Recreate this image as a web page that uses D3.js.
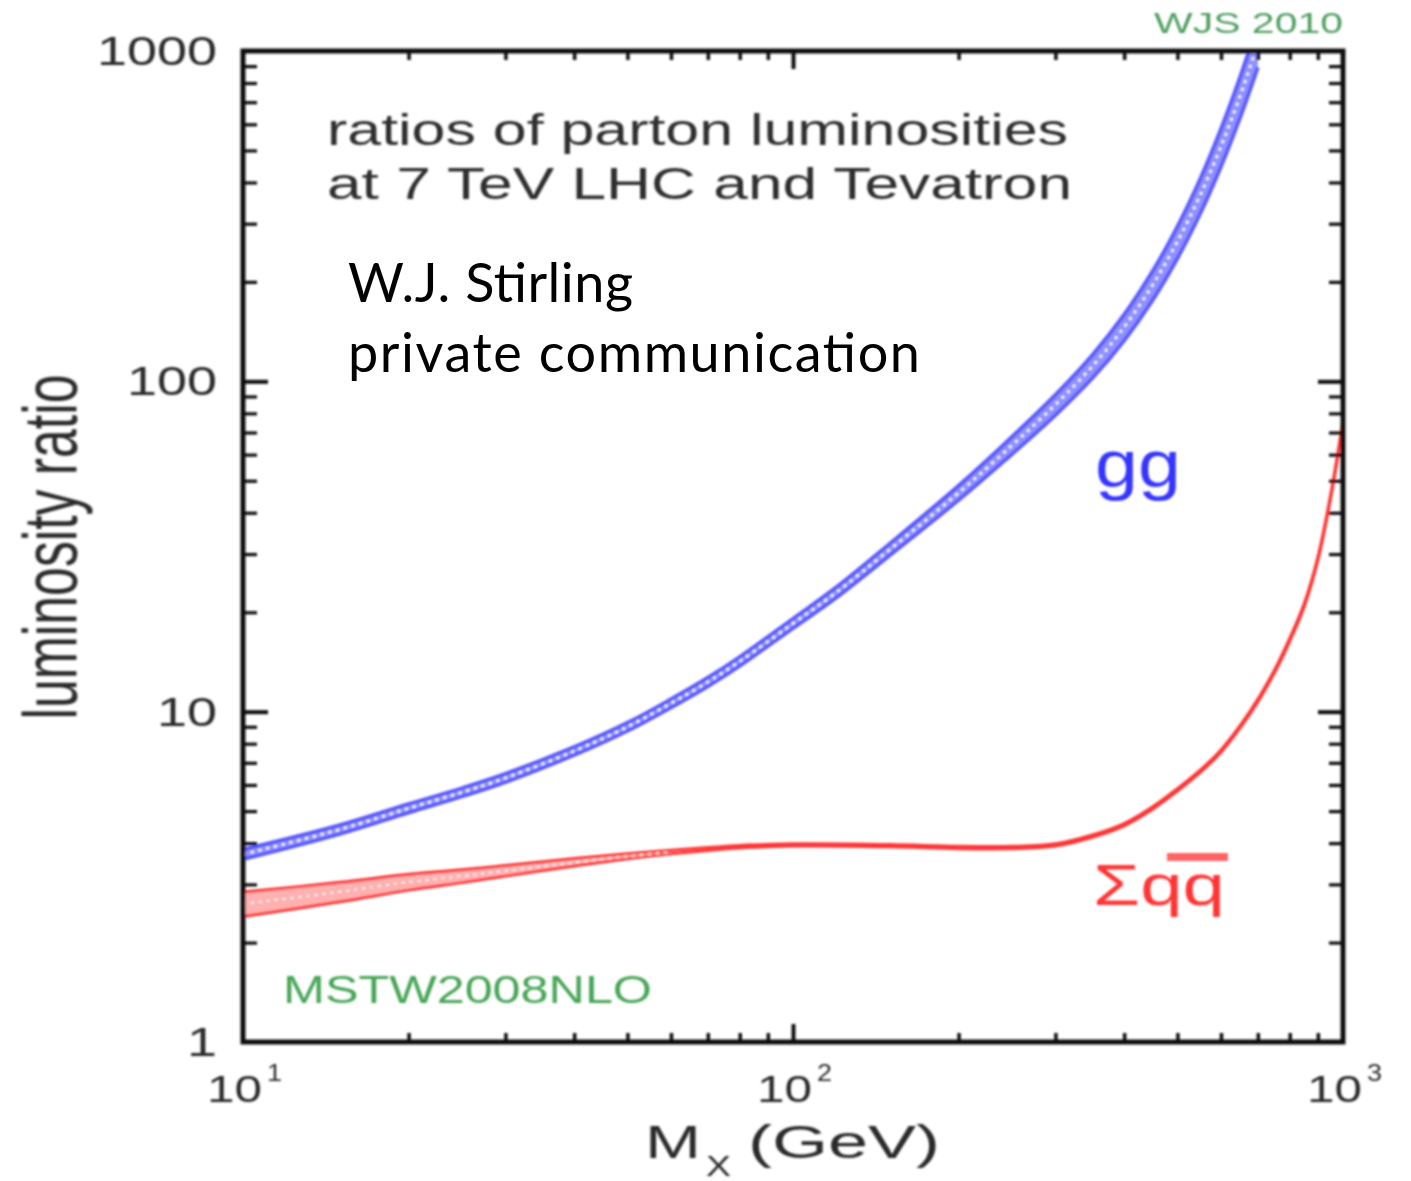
<!DOCTYPE html>
<html>
<head>
<meta charset="utf-8">
<script src="https://cdn.jsdelivr.net/npm/d3@7"></script>
<style>
  body { margin: 0; background: #ffffff; }
  text.sans { font-family: "Liberation Sans", Arial, Helvetica, sans-serif; }
  text.note { font-family: Lato, "Open Sans", sans-serif; }
</style>
</head>
<body>
<svg id="chart" width="1411" height="1181"></svg>
<script>
// gg luminosity ratio (7 TeV LHC / Tevatron) with fractional PDF uncertainty
const ggMass  = [10, 15, 20, 25, 30, 40, 50, 60, 70, 80, 100, 120, 150, 200, 250, 300, 350, 400, 450, 500, 550, 600, 650, 700];
const ggRatio = [3.7, 4.4, 5.1, 5.7, 6.3, 7.6, 9.0, 10.6, 12.3, 14.2, 18.5, 23, 31, 46, 64, 85, 111, 146, 195, 265, 366, 514, 731, 1050];
const ggErr   = [0.034, 0.031, 0.03, 0.029, 0.029, 0.028, 0.028, 0.029, 0.03, 0.031, 0.033, 0.036, 0.041, 0.05, 0.06, 0.07, 0.08, 0.09, 0.1, 0.11, 0.12, 0.13, 0.14, 0.15];

// sum of q-qbar luminosity ratio with fractional PDF uncertainty
const qqMass  = [10, 15, 20, 25, 30, 40, 50, 60, 70, 80, 100, 150, 200, 250, 300, 350, 400, 450, 500, 550, 600, 650, 700, 750, 800, 850, 900, 950, 1000];
const qqRatio = [2.62, 2.85, 3.05, 3.18, 3.3, 3.5, 3.65, 3.76, 3.84, 3.9, 3.95, 3.93, 3.88, 3.88, 3.95, 4.2, 4.55, 5.1, 5.8, 6.6, 7.6, 9.0, 10.8, 13.2, 16.5, 21, 29, 45, 75];
const qqErr   = [0.085, 0.068, 0.055, 0.045, 0.037, 0.026, 0.018, 0.013, 0.01, 0.009, 0.008, 0.008, 0.008, 0.008, 0.008, 0.008, 0.008, 0.008, 0.008, 0.008, 0.008, 0.008, 0.009, 0.009, 0.01, 0.01, 0.011, 0.011, 0.012];

// axis ticks and labels
const yMajorTicks = [1, 10, 100, 1000];
const yTickLabels = ["1", "10", "100", "1000"];
const xMajorTicks = [10, 100, 1000];
const xTickExponents = ["1", "2", "3"];

const x = d3.scaleLog().domain([10, 1000]).range([243, 1343]);
const y = d3.scaleLog().domain([1, 1000]).range([1042, 51]);

const svg = d3.select("#chart");
const defs = svg.append("defs");
defs.append("clipPath").attr("id", "plotClip")
  .append("rect").attr("x", 243).attr("y", 51).attr("width", 1100).attr("height", 991);
defs.append("filter").attr("id", "soft")
  .attr("x", "-5%").attr("y", "-5%").attr("width", "110%").attr("height", "110%")
  .append("feGaussianBlur").attr("stdDeviation", 0.9);

const chart = svg.append("g").attr("filter", "url(#soft)");

// ---- bands ----
function toBand(mass, ratio, err) {
  return mass.map((m, i) => ({ m, r: ratio[i], e: err[i], lo: ratio[i] * (1 - err[i]), hi: ratio[i] * (1 + err[i]) }));
}
const smooth = d3.curveCatmullRom.alpha(0.5);
const area = d3.area().x(d => x(d.m)).y0(d => y(d.lo)).y1(d => y(d.hi)).curve(smooth);
const midLine = d3.line().x(d => x(d.m)).y(d => y(d.r)).curve(smooth);
const loLine = d3.line().x(d => x(d.m)).y(d => y(d.lo)).curve(smooth);
const hiLine = d3.line().x(d => x(d.m)).y(d => y(d.hi)).curve(smooth);

const plot = chart.append("g").attr("clip-path", "url(#plotClip)");

// filled uncertainty band, solid edges, dotted white centre where the band is open
function drawBand(data, fill, edge, edgeWidth, dashWidth, minOpen) {
  const g = plot.append("g");
  g.append("path").datum(data).attr("d", area).attr("fill", fill);
  g.append("path").datum(data).attr("d", loLine).attr("fill", "none").attr("stroke", edge).attr("stroke-width", edgeWidth);
  g.append("path").datum(data).attr("d", hiLine).attr("fill", "none").attr("stroke", edge).attr("stroke-width", edgeWidth);
  const open = data.filter(d => d.e >= minOpen);
  g.append("path").datum(open).attr("d", midLine).attr("fill", "none")
    .attr("stroke", "#ffffff").attr("stroke-width", dashWidth).attr("stroke-dasharray", "3,5");
}
drawBand(toBand(qqMass, qqRatio, qqErr), "#ffb0b0", "#ff3636", 3, 1.8, 0.013);
drawBand(toBand(ggMass, ggRatio, ggErr), "#9090ff", "#5a5aff", 3.8, 2.6, 0);

// ---- frame and ticks ----
const yMinor = [];
[1, 10, 100].forEach(d => { for (let k = 2; k <= 9; k++) yMinor.push(k * d); });
const xMinor = [];
[10, 100].forEach(d => { for (let k = 2; k <= 9; k++) xMinor.push(k * d); });

function tickAxis(axis, tf, w) {
  const g = chart.append("g").attr("transform", tf).call(axis);
  g.select(".domain").remove();
  g.selectAll(".tick line").attr("stroke", "#111").attr("stroke-width", w);
  g.selectAll(".tick text").remove();
  return g;
}
tickAxis(d3.axisLeft(y).tickValues(yMinor).tickSize(-14).tickFormat(""), "translate(243,0)", 3.2);
tickAxis(d3.axisLeft(y).tickValues([10, 100]).tickSize(-25).tickFormat(""), "translate(243,0)", 4);
tickAxis(d3.axisRight(y).tickValues(yMinor).tickSize(-14).tickFormat(""), "translate(1343,0)", 3.2);
tickAxis(d3.axisRight(y).tickValues([10, 100]).tickSize(-25).tickFormat(""), "translate(1343,0)", 4);
tickAxis(d3.axisBottom(x).tickValues(xMinor).tickSize(-9).tickFormat(""), "translate(0,1042)", 3.5);
tickAxis(d3.axisBottom(x).tickValues([100]).tickSize(-18).tickFormat(""), "translate(0,1042)", 4);
tickAxis(d3.axisTop(x).tickValues(xMinor).tickSize(-9).tickFormat(""), "translate(0,51)", 3.5);
tickAxis(d3.axisTop(x).tickValues([100]).tickSize(-18).tickFormat(""), "translate(0,51)", 4);

chart.append("rect")
  .attr("x", x(10)).attr("y", y(1000))
  .attr("width", x(1000) - x(10)).attr("height", y(1) - y(1000))
  .attr("fill", "none").attr("stroke", "#111").attr("stroke-width", 5);

// ---- tick labels ----
chart.selectAll("text.ylab").data(yMajorTicks).enter().append("text")
  .attr("class", "ylab sans")
  .attr("x", 217).attr("y", d => y(d) + 14)
  .attr("text-anchor", "end")
  .attr("font-size", 40).attr("fill", "#2a2a2a")
  .attr("textLength", (d, i) => yTickLabels[i].length * 30)
  .attr("lengthAdjust", "spacingAndGlyphs")
  .text((d, i) => yTickLabels[i]);

const xl = chart.selectAll("g.xlab").data(xMajorTicks).enter().append("g").attr("class", "xlab");
xl.append("text").attr("class", "sans")
  .attr("x", d => x(d) - 36).attr("y", 1102)
  .attr("font-size", 36).attr("fill", "#2a2a2a")
  .attr("textLength", 55).attr("lengthAdjust", "spacingAndGlyphs")
  .text("10");
xl.append("text").attr("class", "sans")
  .attr("x", d => x(d) + 24).attr("y", 1081)
  .attr("font-size", 24).attr("fill", "#2a2a2a")
  .attr("textLength", 15).attr("lengthAdjust", "spacingAndGlyphs")
  .text((d, i) => xTickExponents[i]);

// ---- axis titles ----
chart.append("text").attr("class", "sans").attr("x", 645).attr("y", 1158)
  .attr("font-size", 46).attr("fill", "#2a2a2a")
  .attr("textLength", 56).attr("lengthAdjust", "spacingAndGlyphs").text("M");
chart.append("text").attr("class", "sans").attr("x", 706).attr("y", 1176)
  .attr("font-size", 30).attr("fill", "#2a2a2a")
  .attr("textLength", 25).attr("lengthAdjust", "spacingAndGlyphs").text("X");
chart.append("text").attr("class", "sans").attr("x", 748).attr("y", 1158)
  .attr("font-size", 46).attr("fill", "#2a2a2a")
  .attr("textLength", 192).attr("lengthAdjust", "spacingAndGlyphs").text("(GeV)");

chart.append("text").attr("class", "sans")
  .attr("transform", "translate(76,547) rotate(-90) scale(1,1.45)")
  .attr("text-anchor", "middle")
  .attr("font-size", 52).attr("fill", "#2a2a2a")
  .attr("textLength", 345).attr("lengthAdjust", "spacingAndGlyphs")
  .text("luminosity ratio");

// ---- annotations ----
chart.append("text").attr("class", "sans").attr("x", 327).attr("y", 145)
  .attr("font-size", 44).attr("fill", "#2e2e2e")
  .attr("textLength", 741).attr("lengthAdjust", "spacingAndGlyphs")
  .text("ratios of parton luminosities");
chart.append("text").attr("class", "sans").attr("x", 327).attr("y", 199)
  .attr("font-size", 44).attr("fill", "#2e2e2e")
  .attr("textLength", 745).attr("lengthAdjust", "spacingAndGlyphs")
  .text("at 7 TeV LHC and Tevatron");

chart.append("text").attr("class", "sans").attr("x", 1095).attr("y", 487)
  .attr("font-size", 66).attr("fill", "#3434ff")
  .attr("textLength", 86).attr("lengthAdjust", "spacingAndGlyphs")
  .text("gg");

chart.append("text").attr("class", "sans").attr("x", 1093).attr("y", 905)
  .attr("font-size", 58).attr("fill", "#ff3535")
  .attr("textLength", 132).attr("lengthAdjust", "spacingAndGlyphs")
  .text("Σqq");
chart.append("line").attr("x1", 1167).attr("x2", 1228).attr("y1", 857).attr("y2", 857)
  .attr("stroke", "#ff6464").attr("stroke-width", 8);

chart.append("text").attr("class", "sans").attr("x", 283).attr("y", 1003)
  .attr("font-size", 39).attr("fill", "#46a556")
  .attr("textLength", 369).attr("lengthAdjust", "spacingAndGlyphs")
  .text("MSTW2008NLO");

chart.append("text").attr("class", "sans").attr("x", 1154).attr("y", 33)
  .attr("font-size", 30).attr("fill", "#4f9e60")
  .attr("textLength", 189).attr("lengthAdjust", "spacingAndGlyphs")
  .text("WJS 2010");

// crisp overlay note
svg.append("text").attr("class", "note").attr("x", 348).attr("y", 302)
  .attr("font-size", 54).attr("fill", "#000")
  .attr("textLength", 285).attr("lengthAdjust", "spacing")
  .text("W.J. Stirling");
svg.append("text").attr("class", "note").attr("x", 348).attr("y", 372)
  .attr("font-size", 54).attr("fill", "#000")
  .attr("textLength", 572).attr("lengthAdjust", "spacing")
  .text("private communication");
</script>
</body>
</html>
